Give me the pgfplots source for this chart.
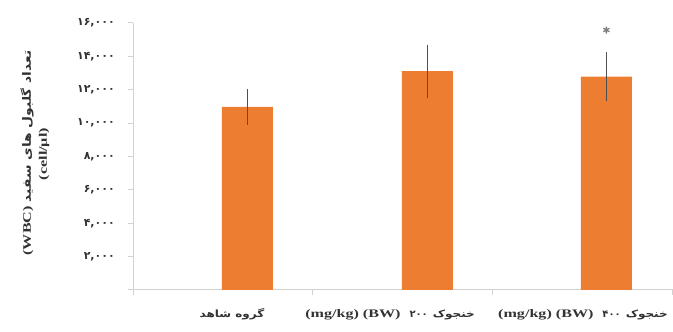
\documentclass[border=0pt]{standalone}
\usepackage{fontspec}
\usepackage{pgfplots}
\pgfplotsset{compat=1.18}
\TeXXeTstate=1
\setmainfont{Liberation Serif}
\newfontfamily\latinfont{Liberation Serif}[FakeStretch=1.4]
\newfontfamily\arabicfont{DejaVu Sans}[Script=Arabic, FakeStretch=1.2]
\newfontfamily\digitfont{DejaVu Sans}
\definecolor{barorange}{RGB}{237,125,49}
\definecolor{axisgray}{RGB}{210,210,210}
\definecolor{txtgray}{RGB}{50,50,50}
\definecolor{errgray}{RGB}{80,80,80}
\newcommand\fa{\arabicfont\bfseries\fontsize{10}{12}\selectfont}
\newcommand\fy{\arabicfont\bfseries\fontsize{11.5}{13}\selectfont}
\newcommand\fd{\digitfont\bfseries\fontsize{10}{12}\selectfont}
\newcommand\la{\latinfont\bfseries\fontsize{11.5}{14}\selectfont}
\begin{document}
\begin{tikzpicture}
\useasboundingbox (0,0) rectangle (673pt,332pt);
\begin{axis}[
  at={(133pt,42pt)}, anchor=south west,
  scale only axis, width=540pt, height=267pt,
  xmin=0, xmax=3, ymin=0, ymax=16000,
  scaled y ticks=false,
  axis lines=left,
  axis line style={axisgray, line width=1pt, -},
  tick align=outside, major tick length=5pt,
  every tick/.style={axisgray, line width=1pt},
  ytick={0,2000,4000,6000,8000,10000,12000,14000,16000},
  yticklabels={{},{۲,۰۰۰},{۴,۰۰۰},{۶,۰۰۰},{۸,۰۰۰},{۱۰,۰۰۰},{۱۲,۰۰۰},{۱۴,۰۰۰},{۱۶,۰۰۰}},
  yticklabel style={font=\digitfont\bfseries\fontsize{11}{11}\selectfont, text=txtgray, anchor=east, inner sep=0pt, xshift=-13pt},
  xtick={0,1,2,3}, xticklabels={},
  extra x ticks={0.55,1.428,2.5},
  extra x tick labels={
    {\fa\beginR گروه شاهد\endR},
    {\beginR{\fa خنجوک}\hspace{5pt}{\fd ۲۰۰}\hspace{9pt}\beginL{\la (mg/kg) (BW)}\endL\endR},
    {\beginR{\fa خنجوک}\hspace{5pt}{\fd ۴۰۰}\hspace{9pt}\beginL{\la (mg/kg) (BW)}\endL\endR}},
  extra x tick style={major tick length=0pt, tick label style={anchor=base, inner sep=0pt, yshift=-28pt, text=txtgray}},
  clip=false,
]
\addplot[ybar, bar width=51pt, fill=barorange, draw=none,
  error bars/.cd, y dir=both, y explicit,
  error bar style={errgray, line width=1pt}, error mark=none]
  coordinates {(0.636,10980) +- (0,1070) (1.636,13120) +- (0,1590) (2.63,12780) +- (0,1480)};
\addplot[only marks, mark=asterisk, mark size=3.5pt, gray, line width=1.3pt]
  coordinates {(2.63,15580)};
\end{axis}
\node[rotate=90, text=txtgray] at (27pt,179pt) {\beginR{\fy تعداد گلبول های سفید}\hspace{4pt}\beginL{\la (WBC)}\endL\endR};
\node[rotate=90, text=txtgray] at (44pt,178pt) {\la (cell/µl)};
\end{tikzpicture}
\end{document}
